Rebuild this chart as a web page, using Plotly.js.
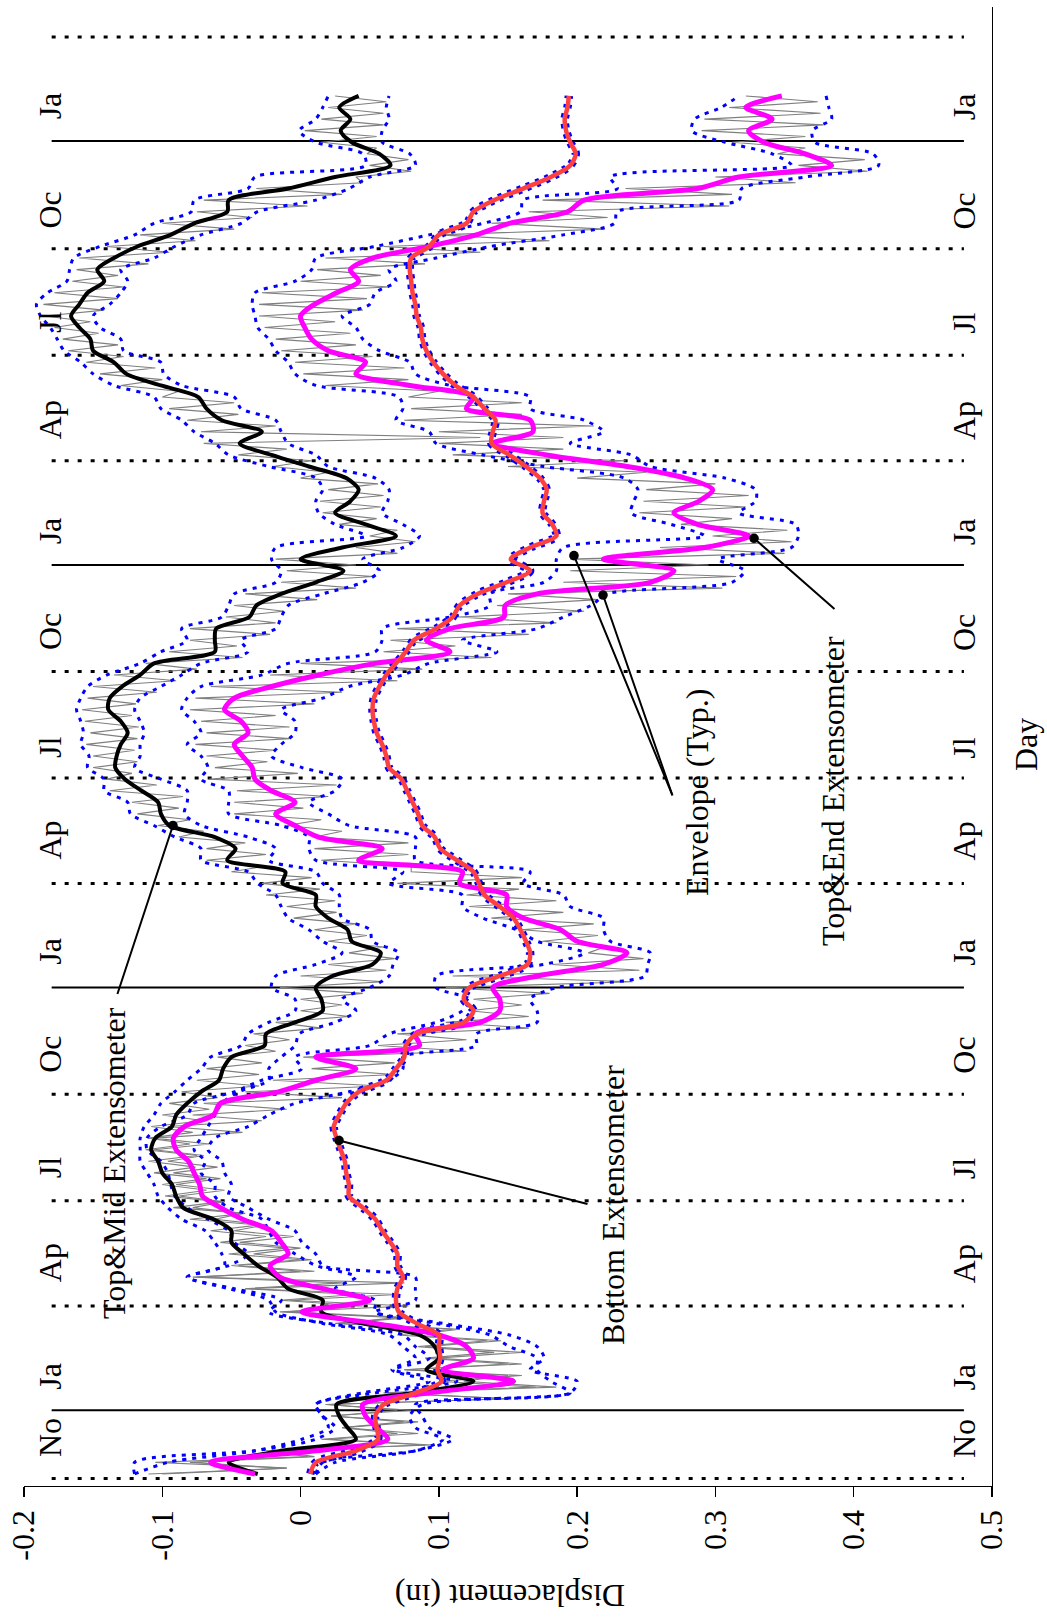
<!DOCTYPE html>
<html><head><meta charset="utf-8">
<script src="https://cdn.plot.ly/plotly-3.0.1.min.js"></script>
<style>html,body{margin:0;padding:0;background:#fff}#chart{width:1047px;height:1617px}</style>
</head><body><div id="chart"></div>
<script>
// Day 0 = 1 January of the first full year; smoothed/envelope series sampled every 10 days from day -55
const smoothStart = -55, smoothStep = 10;
// raw (grey) daily readings sampled every 5 days from day -55
const rawStart = -55, rawStep = 5;

const topMid = [-0.031,-0.052,-0.014,0.040,0.034,0.028,0.026,0.083,0.125,0.091,0.100,0.097,0.086,0.045,0.015,0.016,-0.009,-0.017,-0.031,-0.041,
-0.050,-0.050,-0.063,-0.085,-0.090,-0.093,-0.100,-0.103,-0.108,-0.105,-0.093,-0.090,-0.082,-0.072,-0.059,-0.056,-0.050,-0.026,-0.025,-0.004,
0.016,0.015,0.011,0.023,0.052,0.058,0.037,0.034,0.020,0.011,0.011,-0.013,-0.011,-0.053,-0.047,-0.062,-0.095,-0.101,-0.103,-0.115,
-0.127,-0.134,-0.133,-0.130,-0.125,-0.130,-0.139,-0.138,-0.129,-0.116,-0.106,-0.062,-0.062,-0.061,-0.037,-0.032,-0.014,0.011,0.031,0.000,
0.030,0.069,0.047,0.025,0.036,0.042,0.033,0.006,-0.021,-0.044,-0.028,-0.057,-0.068,-0.074,-0.101,-0.126,-0.135,-0.150,-0.152,-0.160,
-0.166,-0.160,-0.154,-0.142,-0.147,-0.135,-0.118,-0.094,-0.077,-0.053,-0.052,-0.009,0.025,0.065,0.057,0.037,0.029,0.036,0.028,0.042];

const topMidLo = [-0.120,-0.096,-0.033,0.001,0.020,0.016,0.011,0.045,0.093,0.066,0.083,0.074,0.064,0.016,-0.018,-0.023,-0.052,-0.082,-0.055,-0.057,
-0.062,-0.069,-0.086,-0.096,-0.103,-0.106,-0.111,-0.116,-0.116,-0.116,-0.113,-0.106,-0.101,-0.091,-0.082,-0.072,-0.065,-0.043,-0.038,-0.023,
-0.004,-0.004,-0.021,-0.018,0.011,0.030,0.016,0.006,-0.009,-0.014,-0.018,-0.031,-0.038,-0.072,-0.072,-0.091,-0.106,-0.123,-0.125,-0.142,
-0.142,-0.154,-0.153,-0.159,-0.157,-0.159,-0.162,-0.159,-0.154,-0.140,-0.116,-0.101,-0.082,-0.086,-0.057,-0.052,-0.048,-0.018,-0.014,-0.021,
-0.018,0.047,0.025,0.013,0.011,0.016,0.011,-0.023,-0.052,-0.062,-0.077,-0.086,-0.101,-0.106,-0.135,-0.150,-0.159,-0.171,-0.176,-0.181,
-0.188,-0.191,-0.183,-0.169,-0.167,-0.164,-0.145,-0.120,-0.106,-0.079,-0.077,-0.038,-0.033,0.047,0.045,0.011,-0.001,0.011,0.016,0.020];

const topMidHi = [0.011,0.025,0.083,0.103,0.083,0.079,0.088,0.195,0.181,0.171,0.171,0.151,0.137,0.098,0.054,0.054,0.025,0.040,0.011,-0.004,
-0.018,-0.023,-0.028,-0.052,-0.062,-0.062,-0.072,-0.069,-0.077,-0.072,-0.067,-0.062,-0.057,-0.045,-0.023,-0.023,-0.014,-0.004,-0.001,0.025,
0.040,0.030,0.050,0.064,0.067,0.071,0.052,0.050,0.030,0.028,0.028,0.016,0.011,-0.023,-0.018,-0.038,-0.072,-0.084,-0.082,-0.082,
-0.101,-0.120,-0.116,-0.116,-0.113,-0.116,-0.120,-0.116,-0.101,-0.086,-0.072,-0.038,-0.043,-0.018,-0.014,-0.009,0.016,0.045,0.057,0.045,
0.074,0.086,0.074,0.059,0.063,0.064,0.054,0.020,0.011,-0.009,-0.014,-0.018,-0.043,-0.048,-0.086,-0.099,-0.101,-0.128,-0.130,-0.145,
-0.150,-0.138,-0.130,-0.125,-0.130,-0.106,-0.091,-0.072,-0.043,-0.031,0.011,0.035,0.050,0.083,0.079,0.059,0.059,0.064,0.062,0.064];

const topEnd = [-0.033,-0.065,0.011,0.063,0.055,0.047,0.045,0.093,0.154,0.103,0.125,0.120,0.100,0.054,0.001,0.050,0.016,-0.015,-0.022,-0.009,
-0.014,-0.021,-0.042,-0.058,-0.071,-0.073,-0.077,-0.081,-0.090,-0.092,-0.084,-0.063,-0.058,-0.016,0.011,0.040,0.011,0.086,0.083,0.130,
0.144,0.144,0.139,0.171,0.219,0.236,0.200,0.188,0.161,0.149,0.149,0.115,0.117,0.042,0.059,0.013,-0.004,-0.018,-0.004,-0.021,
-0.033,-0.035,-0.042,-0.048,-0.038,-0.043,-0.055,-0.048,-0.021,0.013,0.054,0.108,0.091,0.108,0.147,0.148,0.171,0.253,0.270,0.219,
0.292,0.324,0.287,0.270,0.288,0.298,0.278,0.236,0.178,0.139,0.168,0.166,0.120,0.125,0.079,0.040,0.047,0.020,0.008,0.003,
0.000,0.010,0.026,0.042,0.036,0.052,0.093,0.127,0.151,0.193,0.205,0.287,0.317,0.384,0.365,0.335,0.324,0.341,0.322,0.348];

const topEndLo = [-0.120,-0.120,-0.033,0.011,0.025,0.016,0.011,0.054,0.113,0.068,0.093,0.083,0.074,0.020,-0.023,-0.014,-0.048,-0.082,-0.052,-0.038,
-0.048,-0.052,-0.067,-0.082,-0.091,-0.094,-0.096,-0.101,-0.111,-0.111,-0.101,-0.082,-0.077,-0.048,-0.028,0.001,-0.004,0.050,0.064,0.098,
0.117,0.122,0.098,0.098,0.176,0.205,0.171,0.156,0.132,0.117,0.117,0.064,0.074,0.011,0.006,0.006,-0.014,-0.052,-0.052,-0.052,
-0.072,-0.067,-0.072,-0.082,-0.072,-0.077,-0.086,-0.082,-0.072,-0.028,-0.009,0.054,0.059,0.059,0.108,0.137,0.137,0.176,0.185,0.185,
0.190,0.292,0.268,0.239,0.241,0.244,0.234,0.176,0.132,0.098,0.093,0.069,0.074,0.071,0.011,-0.004,-0.009,-0.018,-0.023,-0.031,
-0.033,-0.035,-0.033,-0.004,0.008,0.011,0.054,0.093,0.132,0.159,0.161,0.229,0.224,0.355,0.341,0.307,0.283,0.285,0.304,0.317];

const topEndHi = [0.011,0.016,0.083,0.110,0.093,0.088,0.083,0.195,0.200,0.166,0.176,0.171,0.151,0.103,0.054,0.083,0.083,0.083,0.016,0.011,
0.001,-0.004,-0.023,-0.038,-0.052,-0.050,-0.055,-0.057,-0.067,-0.062,-0.038,-0.023,-0.004,0.035,0.064,0.074,0.074,0.127,0.127,0.171,
0.171,0.166,0.185,0.249,0.251,0.253,0.224,0.219,0.219,0.195,0.190,0.161,0.166,0.083,0.083,0.083,0.035,0.020,0.006,0.025,
0.030,0.001,-0.021,-0.014,-0.004,-0.004,-0.014,0.016,0.035,0.074,0.093,0.142,0.117,0.171,0.190,0.210,0.222,0.312,0.321,0.302,
0.355,0.360,0.358,0.317,0.329,0.329,0.307,0.253,0.239,0.195,0.219,0.205,0.166,0.166,0.108,0.083,0.079,0.057,0.045,0.040,
0.030,0.050,0.054,0.069,0.064,0.098,0.137,0.190,0.227,0.229,0.317,0.319,0.365,0.418,0.414,0.372,0.370,0.384,0.382,0.380];

const bottom = [0.007,0.011,0.040,0.056,0.055,0.054,0.060,0.083,0.102,0.099,0.101,0.100,0.100,0.084,0.071,0.069,0.070,0.074,0.070,0.070,
0.065,0.059,0.054,0.045,0.035,0.035,0.033,0.032,0.029,0.026,0.024,0.028,0.033,0.042,0.062,0.069,0.075,0.076,0.084,0.118,
0.125,0.118,0.122,0.144,0.164,0.166,0.163,0.159,0.154,0.144,0.133,0.129,0.125,0.113,0.101,0.097,0.088,0.085,0.081,0.077,
0.073,0.064,0.062,0.059,0.055,0.053,0.052,0.053,0.057,0.062,0.069,0.076,0.082,0.098,0.110,0.115,0.128,0.149,0.166,0.152,
0.166,0.185,0.182,0.175,0.176,0.178,0.173,0.163,0.151,0.138,0.139,0.141,0.133,0.125,0.112,0.103,0.096,0.091,0.088,0.087,
0.084,0.083,0.081,0.080,0.079,0.080,0.093,0.100,0.120,0.125,0.140,0.161,0.181,0.195,0.199,0.195,0.192,0.191,0.193,0.194];

const topMidRaw = [-0.100,-0.010,-0.080,0.010,-0.020,0.090,0.015,0.070,0.030,0.075,0.022,0.070,0.020,0.150,0.060,0.170,0.100,0.160,0.075,0.150,
0.090,0.140,0.085,0.135,0.070,0.110,0.025,0.080,-0.010,0.045,-0.015,0.040,-0.040,0.030,-0.075,0.000,-0.050,0.000,-0.052,-0.010,
-0.058,-0.025,-0.065,-0.030,-0.080,-0.040,-0.092,-0.058,-0.098,-0.068,-0.100,-0.068,-0.106,-0.076,-0.110,-0.075,-0.112,-0.080,-0.110,-0.078,
-0.108,-0.070,-0.100,-0.066,-0.095,-0.060,-0.086,-0.030,-0.075,-0.030,-0.068,-0.028,-0.060,-0.018,-0.040,-0.008,-0.034,0.015,-0.018,0.035,
0.000,0.030,0.000,0.045,-0.015,0.060,0.000,0.062,0.020,0.068,0.035,0.060,0.020,0.048,0.010,0.040,-0.005,0.026,-0.010,0.025,
-0.025,0.014,-0.028,0.008,-0.050,-0.025,-0.068,-0.025,-0.068,-0.040,-0.088,-0.070,-0.103,-0.080,-0.118,-0.088,-0.122,-0.085,-0.138,-0.104,
-0.140,-0.122,-0.150,-0.118,-0.150,-0.120,-0.155,-0.118,-0.152,-0.117,-0.156,-0.122,-0.158,-0.119,-0.154,-0.104,-0.150,-0.090,-0.135,-0.075,
-0.112,-0.042,-0.095,-0.046,-0.080,-0.022,-0.080,-0.018,-0.054,-0.012,-0.048,0.012,-0.040,0.040,-0.014,0.053,-0.010,0.040,-0.018,0.070,
0.040,0.083,0.050,0.070,0.028,0.055,0.016,0.058,0.014,0.060,0.020,0.056,0.000,0.020,-0.020,0.008,-0.045,-0.010,-0.070,0.130,
-0.072,-0.018,-0.082,-0.045,-0.095,-0.048,-0.100,-0.088,-0.130,-0.100,-0.145,-0.105,-0.155,-0.128,-0.168,-0.132,-0.172,-0.146,-0.178,-0.152,
-0.185,-0.142,-0.186,-0.132,-0.178,-0.128,-0.165,-0.132,-0.162,-0.110,-0.160,-0.095,-0.140,-0.076,-0.116,-0.048,-0.100,-0.035,-0.075,0.005,
-0.070,0.030,-0.032,0.045,0.040,0.080,0.050,0.078,0.048,0.055,0.015,0.055,0.003,0.060,0.015,0.060,0.020,0.062,0.025];

const topEndRaw = [-0.110,-0.010,-0.105,0.005,-0.025,0.095,0.020,0.085,0.030,0.085,0.022,0.080,0.018,0.150,0.065,0.185,0.118,0.150,0.075,0.160,
0.098,0.160,0.090,0.145,0.080,0.115,0.028,0.070,-0.015,0.078,-0.008,0.070,-0.040,0.075,-0.078,0.010,-0.045,0.008,-0.034,0.000,
-0.044,-0.005,-0.048,-0.025,-0.062,-0.042,-0.078,-0.055,-0.088,-0.055,-0.090,-0.058,-0.092,-0.060,-0.096,-0.070,-0.106,-0.066,-0.106,-0.042,
-0.096,-0.028,-0.078,-0.010,-0.070,0.030,-0.040,0.058,-0.020,0.068,0.008,0.068,0.002,0.120,0.056,0.120,0.070,0.165,0.105,0.165,
0.122,0.160,0.125,0.180,0.105,0.240,0.110,0.245,0.182,0.248,0.208,0.220,0.175,0.215,0.160,0.212,0.138,0.190,0.122,0.185,
0.120,0.158,0.070,0.160,0.080,0.080,0.015,0.078,0.010,0.078,0.010,0.030,-0.010,0.015,-0.048,0.002,-0.048,0.020,-0.046,0.026,
-0.066,-0.002,-0.062,-0.024,-0.068,-0.018,-0.076,-0.008,-0.068,-0.008,-0.072,-0.018,-0.080,0.010,-0.076,0.030,-0.065,0.070,-0.022,0.088,
0.000,0.138,0.060,0.112,0.065,0.165,0.070,0.185,0.114,0.205,0.142,0.215,0.150,0.305,0.190,0.315,0.195,0.295,0.195,0.350,
0.260,0.355,0.298,0.352,0.275,0.312,0.245,0.322,0.248,0.324,0.250,0.300,0.200,0.250,0.150,0.235,0.110,0.190,0.100,0.190,
0.100,0.212,0.075,0.160,0.080,0.160,0.078,0.100,0.018,0.078,0.002,0.075,-0.004,0.052,-0.014,0.040,-0.018,0.036,-0.026,0.025,
-0.030,0.045,-0.030,0.048,-0.028,0.064,0.000,0.058,0.012,0.090,0.018,0.130,0.060,0.180,0.100,0.220,0.138,0.222,0.165,0.310,
0.175,0.312,0.235,0.358,0.300,0.410,0.360,0.408,0.345,0.365,0.312,0.365,0.290,0.378,0.292,0.376,0.310,0.374,0.322];

// quarter boundary days (dotted) and year boundary days (solid)
const quarterDays = [-59, 90, 181, 273, 455, 546, 638, 820, 911, 1003, 1186];
const yearDays = [0, 365, 730, 1096];
// month tick labels and the day at which each label is centred
const monthLabels = ['No','Ja','Ap','Jl','Oc','Ja','Ap','Jl','Oc','Ja','Ap','Jl','Oc','Ja'];
const monthLabelDays = [-24, 29, 127, 209, 307, 396, 492, 572, 672, 759, 855, 939, 1036, 1126];
const dispTicks = [-0.2, -0.1, 0, 0.1, 0.2, 0.3, 0.4, 0.5];
const dispTickText = ['-0.2', '-0.1', '0', '0.1', '0.2', '0.3', '0.4', '0.5'];

const smoothDays = topMid.map((_, i) => smoothStart + i * smoothStep);
const rawDays = topMidRaw.map((_, i) => rawStart + i * rawStep);

const FONT = 'Liberation Serif, Times New Roman, serif';
const envDash = '4px,6px';
const traces = [];
function line(x, y, color, width, dash, shape) {
  return {x: x, y: y, type: 'scatter', mode: 'lines', hoverinfo: 'skip',
    line: {color: color, width: width, dash: dash || 'solid', shape: shape || 'linear', smoothing: 0.8}};
}
traces.push(line(topMidRaw, rawDays, '#7f7f7f', 1.1));
traces.push(line(topEndRaw, rawDays, '#7f7f7f', 1.1));
traces.push(line(topMidLo, smoothDays, '#0000ff', 3, envDash, 'spline'));
traces.push(line(topMidHi, smoothDays, '#0000ff', 3, envDash, 'spline'));
traces.push(line(topEndLo, smoothDays, '#0000ff', 3, envDash, 'spline'));
traces.push(line(topEndHi, smoothDays, '#0000ff', 3, envDash, 'spline'));
traces.push(line(bottom, smoothDays, '#0000ff', 8.5, '4px,6px', 'spline'));
traces.push(line(topMid, smoothDays, '#000000', 4, 'solid', 'spline'));
traces.push(line(topEnd, smoothDays, '#ff00ff', 5, 'solid', 'spline'));
traces.push(line(bottom, smoothDays, '#ff4040', 4.5, 'solid', 'spline'));

const shapes = [];
quarterDays.forEach(d => shapes.push({type: 'line', xref: 'x', yref: 'y', x0: -0.18, x1: 0.4797, y0: d, y1: d,
  line: {color: '#000', width: 3, dash: '4px,9px'}, layer: 'below'}));
yearDays.forEach(d => shapes.push({type: 'line', xref: 'x', yref: 'y', x0: -0.18, x1: 0.4797, y0: d, y1: d,
  line: {color: '#000', width: 2}, layer: 'below'}));

const annotations = [];
monthLabels.forEach((t, i) => {
  [-0.1812, 0.4797].forEach(xv => annotations.push({x: xv, y: monthLabelDays[i], xref: 'x', yref: 'y', text: t,
    showarrow: false, textangle: -90, font: {family: FONT, size: 32, color: '#000'}, xanchor: 'center', yanchor: 'middle'}));
});
function px(xp) { return (xp - 24) / 968; }
function py(yp) { return (1486 - yp) / 1479; }
function label(text, x, y, angle) {
  annotations.push({x: px(x), y: py(y), xref: 'paper', yref: 'paper', text: text, showarrow: false,
    textangle: angle, font: {family: FONT, size: 32, color: '#000'}, xanchor: 'center', yanchor: 'middle'});
}
label('Displacement (in)', 510, 1596, 180);
label('Day', 1026, 745, -90);
label('Top&amp;Mid Extensometer', 114, 1163, -90);
label('Bottom Extensometer', 613, 1205, -90);
label('Envelope (Typ.)', 697, 793, -90);
label('Top&amp;End Extensometer', 833, 791, -90);
function pointer(xv, d, ax, ay) {
  annotations.push({x: xv, y: d, xref: 'x', yref: 'y', text: '', showarrow: true, ax: ax, ay: ay,
    arrowhead: 6, arrowsize: 1.2, arrowwidth: 2, arrowcolor: '#000', standoff: 0});
}
pointer(-0.0923, 505, -56, 170);
pointer(0.0278, 233, 250, 64);
pointer(0.1977, 738, 99, 241);
pointer(0.2187, 704, 70, 202);
pointer(0.3279, 753, 82, 72);

const layout = {
  width: 1047, height: 1617,
  margin: {l: 24, r: 55, t: 7, b: 131, pad: 0},
  paper_bgcolor: '#fff', plot_bgcolor: '#fff',
  showlegend: false,
  font: {family: FONT, size: 32, color: '#000'},
  xaxis: {range: [-0.2, 0.5], tickvals: dispTicks, ticktext: dispTickText, tickangle: -90,
    ticks: 'outside', ticklen: 10, tickwidth: 1.3, tickcolor: '#000',
    showline: true, linecolor: '#000', linewidth: 1.3, showgrid: false, zeroline: false,
    tickfont: {family: FONT, size: 32, color: '#000'}},
  yaxis: {range: [-65.4, 1211.8], side: 'right', showline: true, linecolor: '#000', linewidth: 1.3,
    showticklabels: false, ticks: '', showgrid: false, zeroline: false},
  shapes: shapes,
  annotations: annotations
};
Plotly.newPlot('chart', traces, layout, {staticPlot: true, displayModeBar: false});
</script>
</body></html>
